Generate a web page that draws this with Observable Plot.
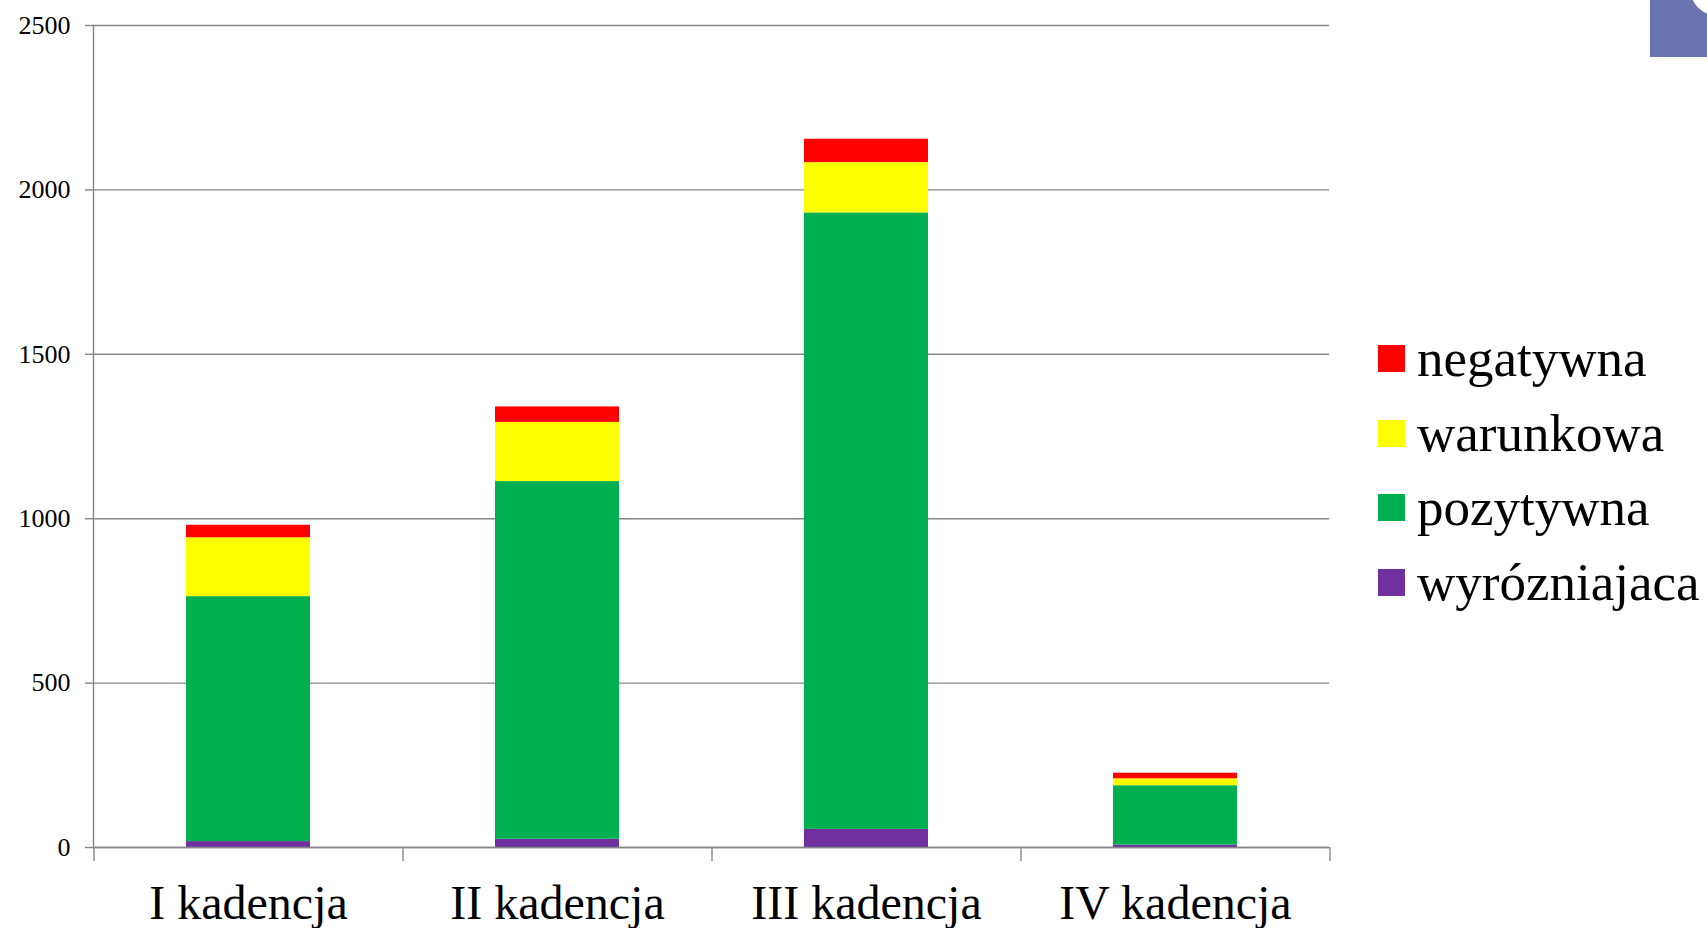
<!DOCTYPE html>
<html>
<head>
<meta charset="utf-8">
<script src="https://cdn.jsdelivr.net/npm/d3@7"></script>
<script src="https://cdn.jsdelivr.net/npm/@observablehq/plot@0.6"></script>
<style>
  html, body { margin: 0; padding: 0; background: #fff; overflow: hidden; }
  #wrap { position: relative; width: 1707px; height: 928px; font-family: "Liberation Serif", "Times New Roman", Tinos, serif; }
  #chart { position: absolute; left: 0; top: 0; }
  #legend { position: absolute; left: 1378px; top: 345px; }
  .row { position: absolute; left: 0; height: 27px; }
  .sw { position: absolute; left: 0; top: 0; width: 27px; height: 27px; }
  .lbl { position: absolute; left: 39px; top: -13px; font-size: 53px; line-height: 52px; white-space: nowrap; color: #000; }
  #corner { position: absolute; left: 1650px; top: 0; width: 57px; height: 57px; background: #6873b0; overflow: hidden; }
  #corner::after { content: ""; position: absolute; left: 40px; top: -40px; width: 56px; height: 56px; border-radius: 50%; background: #fff; }
</style>
</head>
<body>
<div id="wrap">
  <div id="chart"></div>
  <div id="legend"></div>
  <div id="corner"></div>
</div>
<script>
const categories = ["I kadencja", "II kadencja", "III kadencja", "IV kadencja"];
const series = ["wyrózniajaca", "pozytywna", "warunkowa", "negatywna"];
const colors = ["#7030A0", "#00B050", "#FFFF00", "#FF0000"];
const wyrozniajaca = [18, 25, 55, 7];
const pozytywna = [745, 1088, 1875, 181];
const warunkowa = [179, 180, 153, 21];
const negatywna = [38, 47, 71, 17];
const yTicks = [0, 500, 1000, 1500, 2000, 2500];
const legendOrder = ["negatywna", "warunkowa", "pozytywna", "wyrózniajaca"];

const valuesBySeries = {wyrózniajaca: wyrozniajaca, pozytywna, warunkowa, negatywna};
const data = [];
for (const s of series) {
  categories.forEach((c, i) => data.push({kadencja: c, ocena: s, value: valuesBySeries[s][i]}));
}

const W = 1707, H = 928;
const mL = 93, mR = 1707 - 1329, mT = 25, mB = 81;
const step = (W - mL - mR) / categories.length;
const pxPerUnit = (H - mT - mB) / 2500;
const xTickLen = 14;
const gray = "#868686";

const chart = Plot.plot({
  width: W,
  height: H,
  marginLeft: mL,
  marginRight: mR,
  marginTop: mT,
  marginBottom: mB,
  style: {fontFamily: "'Liberation Serif', 'Times New Roman', Tinos, serif", background: "transparent", color: "#000"},
  x: {domain: categories, paddingInner: 0.6, paddingOuter: 0.3, label: null},
  y: {domain: [0, 2500], label: null},
  color: {domain: series, range: colors},
  marks: [
    Plot.ruleY(yTicks, {stroke: gray, strokeWidth: 1.4}),
    Plot.barY(data, Plot.stackY({order: series}, {x: "kadencja", y: "value", fill: "ocena"})),
    Plot.ruleY([0], {stroke: gray, strokeWidth: 1.4}),
    Plot.frame({anchor: "left", stroke: gray, strokeWidth: 1.4}),
    Plot.ruleX(categories, {x: d => d, dx: -step / 2, y1: 0, y2: -xTickLen / pxPerUnit, stroke: gray, strokeWidth: 1.4}),
    Plot.ruleX([categories[categories.length - 1]], {x: d => d, dx: step / 2, y1: 0, y2: -xTickLen / pxPerUnit, stroke: gray, strokeWidth: 1.4}),
    Plot.axisY({ticks: yTicks, tickFormat: d3.format("d"), tickSize: 8, tickPadding: 15, stroke: gray, strokeWidth: 1.4, fill: "#000", fontSize: 26, label: null}),
    Plot.axisX({tickSize: 0, tickPadding: 37, fill: "#000", fontSize: 48, label: null})
  ]
});
document.getElementById("chart").appendChild(chart);

const legend = document.getElementById("legend");
legendOrder.forEach((s, i) => {
  const row = document.createElement("div");
  row.className = "row";
  row.style.top = (i * 74.6) + "px";
  const sw = document.createElement("div");
  sw.className = "sw";
  sw.style.background = colors[series.indexOf(s)];
  const lbl = document.createElement("div");
  lbl.className = "lbl";
  lbl.textContent = s;
  row.appendChild(sw);
  row.appendChild(lbl);
  legend.appendChild(row);
});
</script>
</body>
</html>
